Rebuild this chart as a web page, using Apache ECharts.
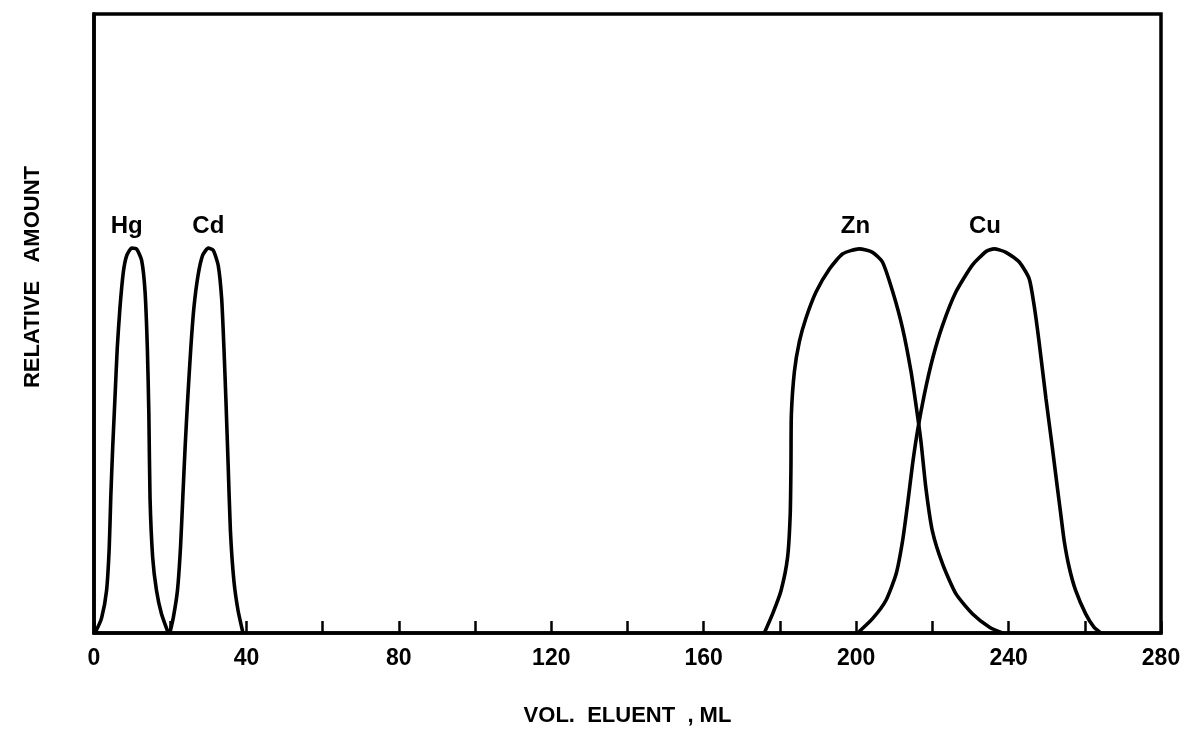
<!DOCTYPE html>
<html>
<head>
<meta charset="utf-8">
<script src="https://cdn.jsdelivr.net/npm/echarts@6/dist/echarts.min.js"></script>
<style>html,body{margin:0;padding:0;background:#fff;}#c{width:1188px;height:732px;}</style>
</head>
<body>
<div id="c"></div>
<script>
// x = volume of eluent (mL), y = relative amount
const hgX = [0, 0.5, 2.0, 3.3, 4.0, 4.4, 4.9, 5.5, 6.1, 6.8, 7.7, 8.6, 9.9, 11.2, 12.5, 13.4, 14.0, 14.4, 14.7, 15.4, 16.4, 17.7, 19.5];
const hgY = [0, 0.005, 0.039, 0.110, 0.221, 0.350, 0.478, 0.607, 0.736, 0.839, 0.933, 0.976, 0.995, 0.992, 0.963, 0.882, 0.736, 0.564, 0.350, 0.195, 0.110, 0.050, 0];
const cdX = [19.9, 20.8, 21.9, 22.7, 23.3, 23.9, 24.6, 25.4, 26.2, 27.3, 28.5, 30.0, 31.3, 32.6, 33.5, 34.1, 34.6, 35.2, 35.8, 36.7, 37.8, 39.1];
const cdY = [0, 0.039, 0.110, 0.221, 0.350, 0.478, 0.607, 0.736, 0.839, 0.924, 0.976, 0.995, 0.989, 0.950, 0.864, 0.736, 0.607, 0.436, 0.264, 0.136, 0.058, 0];
const znX = [175.9, 178.1, 180.3, 182.0, 182.7, 182.9, 183.0, 183.8, 185.1, 186.8, 189.5, 193.0, 196.5, 200.8, 204.3, 206.9, 209.6, 212.2, 214.4, 215.7, 217.0, 218.3, 220.0, 222.7, 226.2, 230.5, 235.0, 238.4];
const znY = [0, 0.05, 0.11, 0.195, 0.307, 0.436, 0.564, 0.676, 0.753, 0.813, 0.882, 0.941, 0.980, 0.993, 0.984, 0.959, 0.882, 0.787, 0.676, 0.590, 0.496, 0.375, 0.264, 0.178, 0.101, 0.050, 0.015, 0];
const cuX = [200.4, 204.3, 207.8, 210.5, 212.2, 213.5, 214.8, 216.1, 217.9, 220.1, 222.7, 226.2, 230.5, 234.1, 236.2, 239.3, 242.8, 245.4, 246.7, 248.0, 249.8, 251.5, 252.8, 253.7, 254.6, 255.9, 257.6, 260.2, 262.4, 264.2];
const cuY = [0, 0.037, 0.084, 0.153, 0.239, 0.333, 0.436, 0.522, 0.617, 0.711, 0.796, 0.882, 0.951, 0.986, 0.993, 0.984, 0.959, 0.916, 0.847, 0.753, 0.607, 0.478, 0.376, 0.307, 0.238, 0.170, 0.110, 0.050, 0.015, 0];

const peakNames = ['Hg', 'Cd', 'Zn', 'Cu'];
const peakLabelX = [8.6, 30.0, 199.8, 233.8];
const peakLabelY = [1.052, 1.052, 1.052, 1.052];

const xTickLabels = [0, 40, 80, 120, 160, 200, 240, 280];
const xTitle = 'VOL.  ELUENT  , ML';
const yTitle = 'RELATIVE   AMOUNT';

function pairs(xs, ys) { return xs.map((x, i) => [x, ys[i]]); }

const lineStyle = { color: '#000', width: 3.6 };
function curve(name, xs, ys) {
  return {
    name: name, type: 'line', data: pairs(xs, ys), smooth: 0.2,
    showSymbol: false, symbol: 'none', lineStyle: lineStyle, silent: true, z: 3
  };
}

const chart = echarts.init(document.getElementById('c'), null, { renderer: 'canvas' });
chart.setOption({
  backgroundColor: '#fff',
  animation: false,
  grid: { left: 94, right: 27, top: 14, bottom: 96, show: true, borderColor: '#000', borderWidth: 3.5, containLabel: false },
  xAxis: {
    type: 'value', min: 0, max: 280, interval: 20,
    name: xTitle, nameLocation: 'middle', nameGap: 72,
    nameTextStyle: { fontFamily: 'Liberation Sans', fontSize: 22, color: '#000', fontWeight: 'bold' },
    axisLine: { show: true, lineStyle: { color: '#000', width: 3.5 } },
    axisTick: { show: true, inside: true, length: 12, lineStyle: { color: '#000', width: 2.5 } },
    axisLabel: {
      show: true, margin: 14, color: '#000', fontFamily: 'Liberation Sans', fontSize: 23, fontWeight: 'bold',
      formatter: v => (xTickLabels.indexOf(v) >= 0 ? String(v) : '')
    },
    splitLine: { show: false }
  },
  yAxis: {
    type: 'value', min: 0, max: 1.6,
    axisLine: { show: true, lineStyle: { color: '#000', width: 3.5 } },
    axisTick: { show: false }, axisLabel: { show: false }, splitLine: { show: false }
  },
  graphic: [{
    type: 'text', x: 33, y: 277, rotation: Math.PI / 2,
    style: { text: yTitle, fill: '#000', font: 'bold 22px "Liberation Sans"', textAlign: 'center', textVerticalAlign: 'middle' }
  }],
  series: [
    curve('Hg', hgX, hgY),
    curve('Cd', cdX, cdY),
    curve('Zn', znX, znY),
    curve('Cu', cuX, cuY),
    {
      name: 'labels', type: 'scatter', symbolSize: 0, silent: true,
      itemStyle: { color: '#000', opacity: 1 },
      data: peakNames.map((n, i) => ({ name: n, value: [peakLabelX[i], peakLabelY[i]] })),
      label: {
        show: true, position: 'inside', formatter: p => p.name, opacity: 1,
        color: '#000', textBorderWidth: 0, fontFamily: 'Liberation Sans', fontSize: 24, fontWeight: 'bold'
      }
    }
  ]
});
</script>
</body>
</html>
